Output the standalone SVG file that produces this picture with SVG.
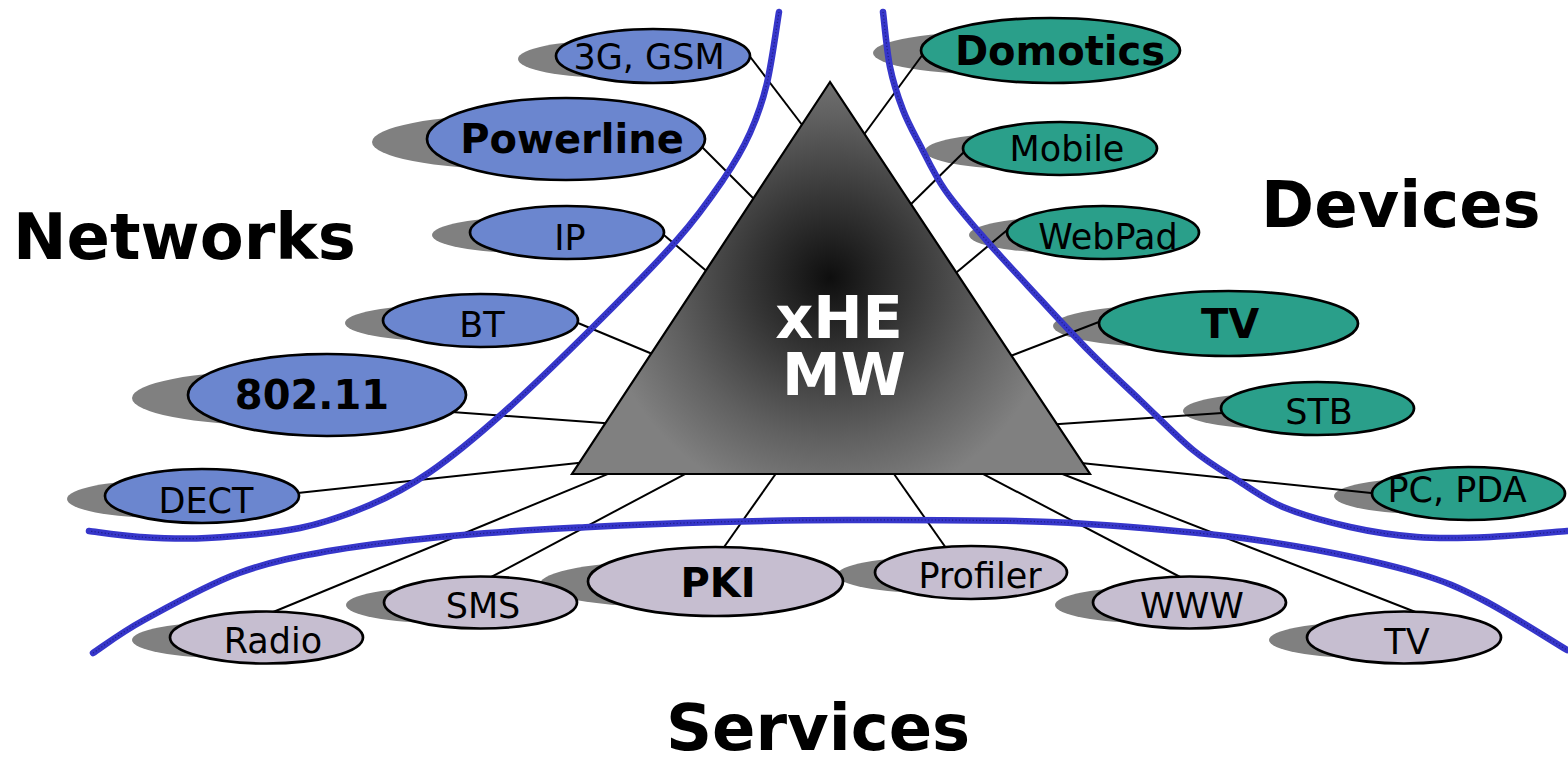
<svg xmlns="http://www.w3.org/2000/svg" width="1568" height="758" viewBox="0 0 1568 758">
<style>
.bg{fill:#ffffff}
.sh{fill:#808080}
.net{fill:#6b86cf;stroke:#000;stroke-width:2.7}
.dev{fill:#2a9f8a;stroke:#000;stroke-width:2.7}
.srv{fill:#c6bed0;stroke:#000;stroke-width:2.7}
.lbl{font-family:"DejaVu Sans",sans-serif;font-size:35px;fill:#000;text-anchor:middle}
.blbl{font-family:"DejaVu Sans",sans-serif;font-size:40px;font-weight:bold;fill:#000;text-anchor:middle}
.title{font-family:"DejaVu Sans",sans-serif;font-size:64px;font-weight:bold;fill:#000}
.core{font-family:"DejaVu Sans",sans-serif;font-size:59px;font-weight:bold;fill:#fff;text-anchor:middle}
.conn line{stroke:#000;stroke-width:2}
.curve{fill:none;stroke:#3636ca;stroke-width:6.5;stroke-linecap:round;stroke-linejoin:round}
.curvedots{fill:none;stroke:#1e1e86;stroke-width:1.2;stroke-dasharray:1.2 2.2}
</style>
<defs>
<radialGradient id="tri" gradientUnits="userSpaceOnUse" cx="830" cy="278" r="230">
<stop offset="0" stop-color="#0e0e0e"/>
<stop offset="0.35" stop-color="#363636"/>
<stop offset="0.7" stop-color="#606060"/>
<stop offset="1" stop-color="#808080"/>
</radialGradient>
<path id="pA" d="M779,12 C777,23.8 771.8,62.8 767,83 C762.2,103.2 757.3,116.8 750,133 C742.7,149.2 735.2,162.2 723,180 C710.8,197.8 698.7,215.5 677,240 C655.3,264.5 622,298.2 593,327 C564,355.8 530.2,388.8 503,413 C475.8,437.2 452.2,456.7 430,472 C407.8,487.3 391.7,495.7 370,505 C348.3,514.3 327.2,522.5 300,528 C272.8,533.5 233.7,536.5 207,538 C180.3,539.5 159.7,538.2 140,537 C120.3,535.8 97.5,532 89,531"/>
<path id="pB" d="M883,12 C884.2,21.2 886.7,50.7 890,67 C893.3,83.3 898,97 903,110 C908,123 913,131.7 920,145 C927,158.3 934,174.2 945,190 C956,205.8 970,221.7 986,240 C1002,258.3 1023.7,281.3 1041,300 C1058.3,318.7 1073.5,335.3 1090,352 C1106.5,368.7 1122.8,383.7 1140,400 C1157.2,416.3 1176.8,436.7 1193,450 C1209.2,463.3 1222,470.5 1237,480 C1252,489.5 1264.2,499.2 1283,507 C1301.8,514.8 1327.7,522 1350,527 C1372.3,532 1393.7,535.3 1417,537 C1440.3,538.7 1465,538 1490,537 C1515,536 1554.2,532 1567,531"/>
<path id="pC" d="M93,653 C101.5,647.5 119.7,633.3 144,620 C168.3,606.7 207.2,584.7 239,573 C270.8,561.3 297.7,556.3 335,550 C372.3,543.7 420.5,538.8 463,535 C505.5,531.2 547.5,529.2 590,527 C632.5,524.8 675.5,523.2 718,522 C760.5,520.8 789.7,520 845,520 C900.3,520 988,519.5 1050,522 C1112,524.5 1172.5,530.3 1217,535 C1261.5,539.7 1283.7,543.7 1317,550 C1350.3,556.3 1389.3,564.7 1417,573 C1444.7,581.3 1458,587.2 1483,600 C1508,612.8 1553,641.7 1567,650"/>
</defs>
<rect class="bg" x="0" y="0" width="1568" height="758"/>

<g id="shadows">
<ellipse class="sh" cx="615" cy="59" rx="97" ry="19"/>
<ellipse class="sh" cx="511" cy="142" rx="139" ry="27"/>
<ellipse class="sh" cx="529" cy="235" rx="97" ry="18"/>
<ellipse class="sh" cx="442" cy="323" rx="97" ry="18"/>
<ellipse class="sh" cx="271" cy="398" rx="139" ry="27"/>
<ellipse class="sh" cx="164" cy="499" rx="97" ry="19"/>
<ellipse class="sh" cx="1002" cy="53" rx="129" ry="22"/>
<ellipse class="sh" cx="1022" cy="151" rx="97" ry="18"/>
<ellipse class="sh" cx="1065" cy="235" rx="96" ry="18"/>
<ellipse class="sh" cx="1182" cy="326" rx="129" ry="22"/>
<ellipse class="sh" cx="1279" cy="411" rx="96" ry="18"/>
<ellipse class="sh" cx="1430" cy="496" rx="96" ry="18"/>
<ellipse class="sh" cx="228" cy="640" rx="96" ry="18"/>
<ellipse class="sh" cx="442" cy="605" rx="96" ry="18"/>
<ellipse class="sh" cx="667" cy="584" rx="127" ry="23"/>
<ellipse class="sh" cx="933" cy="575" rx="96" ry="18"/>
<ellipse class="sh" cx="1151" cy="605" rx="96" ry="18"/>
<ellipse class="sh" cx="1366" cy="640" rx="97" ry="18"/>
</g>

<g id="connectors" class="conn">
<line x1="748" y1="54" x2="806" y2="130"/>
<line x1="698" y1="143" x2="758" y2="203"/>
<line x1="658" y1="230" x2="710" y2="274"/>
<line x1="572" y1="320.5" x2="656" y2="355.5"/>
<line x1="445" y1="411.5" x2="610" y2="423.5"/>
<line x1="293" y1="493.6" x2="585" y2="462.2"/>
<line x1="926" y1="50" x2="860" y2="140"/>
<line x1="968" y1="148" x2="906" y2="209"/>
<line x1="1012" y1="226" x2="951" y2="277"/>
<line x1="1104" y1="320" x2="1006" y2="357.7"/>
<line x1="1226" y1="412.7" x2="1052" y2="424.5"/>
<line x1="1376" y1="493.6" x2="1076" y2="462.4"/>
<line x1="616" y1="470.7" x2="272" y2="612.5"/>
<line x1="692" y1="470.3" x2="488" y2="578.7"/>
<line x1="777" y1="472" x2="722" y2="550"/>
<line x1="892.6" y1="472" x2="946" y2="548"/>
<line x1="980" y1="472.4" x2="1184" y2="579"/>
<line x1="1058" y1="472.3" x2="1418" y2="613"/>
</g>

<g id="core">
<polygon points="830,82 572,474 1090,474" fill="url(#tri)" stroke="#000" stroke-width="2.2" stroke-linejoin="miter"/>
<text class="core" x="839" y="338">xHE</text>
<text class="core" x="844" y="395">MW</text>
</g>

<g id="boundaries">
<use href="#pA" class="curve"/>
<use href="#pB" class="curve"/>
<use href="#pC" class="curve"/>
<use href="#pA" class="curvedots"/>
<use href="#pB" class="curvedots"/>
<use href="#pC" class="curvedots"/>
</g>

<g id="n-3g"><ellipse class="net" cx="653" cy="56" rx="97" ry="27"/><text class="lbl" x="649" y="69">3G, GSM</text></g>
<g id="n-powerline"><ellipse class="net" cx="566" cy="139" rx="139" ry="41"/><text class="blbl" x="572" y="153">Powerline</text></g>
<g id="n-ip"><ellipse class="net" cx="567" cy="232.5" rx="97" ry="26.5"/><text class="lbl" x="570" y="250">IP</text></g>
<g id="n-bt"><ellipse class="net" cx="480.5" cy="320.5" rx="97.5" ry="26.5"/><text class="lbl" x="482" y="337">BT</text></g>
<g id="n-80211"><ellipse class="net" cx="327" cy="395" rx="139" ry="41"/><text class="blbl" x="312" y="409">802.11</text></g>
<g id="n-dect"><ellipse class="net" cx="202" cy="496" rx="97" ry="27"/><text class="lbl" x="206" y="513">DECT</text></g>

<g id="n-domotics"><ellipse class="dev" cx="1050.5" cy="50.5" rx="129.5" ry="32.5"/><text class="blbl" x="1060" y="65">Domotics</text></g>
<g id="n-mobile"><ellipse class="dev" cx="1060" cy="148.5" rx="97" ry="26.5"/><text class="lbl" x="1067" y="161">Mobile</text></g>
<g id="n-webpad"><ellipse class="dev" cx="1103" cy="232.5" rx="96" ry="26.5"/><text class="lbl" x="1108" y="249">WebPad</text></g>
<g id="n-tv-dev"><ellipse class="dev" cx="1228.5" cy="323.5" rx="129.5" ry="32.5"/><text class="blbl" x="1230" y="338">TV</text></g>
<g id="n-stb"><ellipse class="dev" cx="1317.5" cy="408.5" rx="96.5" ry="26.5"/><text class="lbl" x="1319" y="424">STB</text></g>
<g id="n-pcpda"><ellipse class="dev" cx="1468.5" cy="493.5" rx="96.5" ry="26.5"/><text class="lbl" x="1457" y="502">PC, PDA</text></g>

<g id="n-radio"><ellipse class="srv" cx="266.5" cy="637.5" rx="96.5" ry="26"/><text class="lbl" x="273" y="653">Radio</text></g>
<g id="n-sms"><ellipse class="srv" cx="480.5" cy="602.5" rx="96.5" ry="26"/><text class="lbl" x="483" y="618">SMS</text></g>
<g id="n-pki"><ellipse class="srv" cx="715.5" cy="581.5" rx="127.5" ry="34.5"/><text class="blbl" x="718" y="597">PKI</text></g>
<g id="n-profiler"><ellipse class="srv" cx="971" cy="572.5" rx="96" ry="26.5"/><text class="lbl" x="980" y="588">Profiler</text></g>
<g id="n-www"><ellipse class="srv" cx="1189.5" cy="602.5" rx="96.5" ry="26"/><text class="lbl" x="1192" y="618">WWW</text></g>
<g id="n-tv-srv"><ellipse class="srv" cx="1404" cy="637.5" rx="97" ry="26"/><text class="lbl" x="1407" y="654">TV</text></g>

<g id="titles">
<text class="title" x="13" y="259">Networks</text>
<text class="title" x="1261" y="227">Devices</text>
<text class="title" x="666" y="750">Services</text>
</g>
</svg>
